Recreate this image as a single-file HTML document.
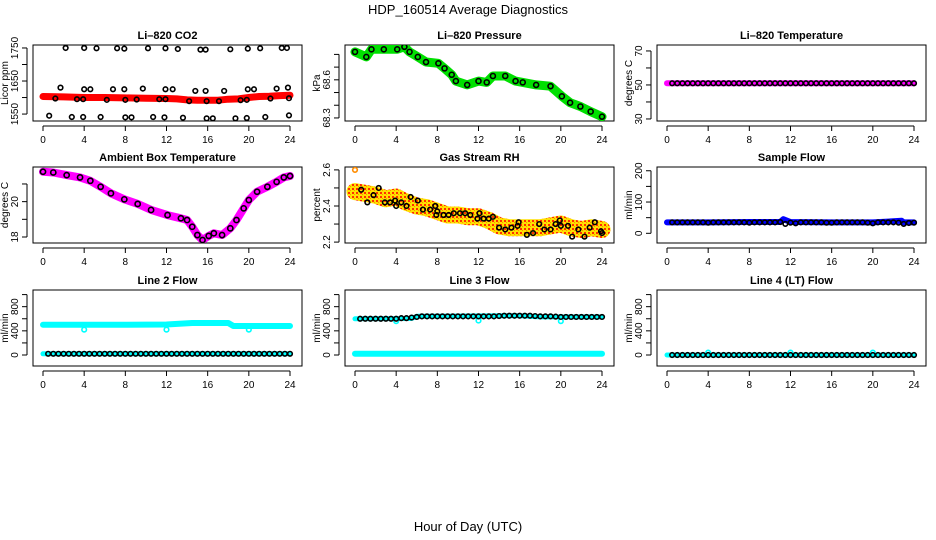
<!DOCTYPE html>
<html><head><meta charset="utf-8">
<style>
body{margin:0;background:#fff;}
svg{display:block;font-family:"Liberation Sans",sans-serif;}
</style></head>
<body>
<svg id="chart" width="936" height="540" viewBox="0 0 936 540" xmlns="http://www.w3.org/2000/svg">
<defs>
<pattern id="rhpat" width="4" height="4" patternUnits="userSpaceOnUse">
<rect width="4" height="4" fill="#ffe000"/><rect width="2" height="2" fill="#ff3000"/><rect x="2" y="2" width="1" height="1" fill="#ff9000"/>
</pattern>
</defs>
<text x="468" y="14" font-size="13" text-anchor="middle">HDP_160514  Average Diagnostics</text>
<text x="468" y="531" font-size="13" text-anchor="middle">Hour of Day (UTC)</text>
</svg>
<script>
// ---- data ----
const xTicks = [0,4,8,12,16,20,24];
// CO2
const co2BandHours = [0,2,4,6,8,10,12,13,14,15,16,17,18,19,20,21,22,23,24];
const co2BandVals = [1603,1602,1600,1600,1599,1598,1597,1596,1593,1592,1592,1592,1595,1596,1600,1603,1604,1606,1607];
const co2CircHours = [2.2,4.0,5.2,7.2,7.9,10.2,11.9,13.1,15.3,15.8,18.2,19.9,21.1,23.2,23.7,
 1.7,4.0,4.6,6.8,7.9,9.7,11.9,12.6,14.8,15.8,17.6,19.9,20.5,22.7,23.8,
 1.2,3.3,3.9,6.2,8.0,9.1,11.3,11.9,14.2,15.9,17.1,19.2,19.8,22.1,23.9,
 0.6,2.8,3.9,5.6,8.0,8.6,10.7,11.8,13.6,15.9,16.5,18.7,19.8,21.6,23.9];
const co2CircVals = [1750,1750,1749,1749,1748,1749,1749,1747,1745,1745,1746,1748,1749,1750,1750,
 1630,1625,1625,1625,1625,1627,1625,1625,1620,1620,1620,1625,1625,1627,1630,
 1597,1595,1595,1593,1593,1594,1595,1595,1589,1589,1589,1592,1593,1597,1598,
 1545,1541,1541,1541,1540,1540,1541,1540,1539,1537,1537,1537,1538,1541,1546];
// Pressure
const presHours = [0,1.1,1.6,2.8,4.1,4.8,5.3,6.1,6.9,8.1,8.7,9.4,9.8,10.9,12.0,12.8,13.4,14.6,15.6,16.3,17.6,19.0,20.1,20.9,21.9,22.9,24];
const presVals = [68.82,68.78,68.84,68.84,68.84,68.86,68.82,68.78,68.74,68.73,68.69,68.64,68.59,68.56,68.59,68.58,68.63,68.63,68.59,68.58,68.56,68.55,68.47,68.42,68.39,68.35,68.31];
// Li-820 temperature
const tempBandHours = [0,24];
const tempBandVals = [51,51];
// Ambient temperature
const ambHours = [0,1.0,2.3,3.6,4.6,5.6,6.6,7.9,9.2,10.5,12.1,13.4,14.0,14.5,15.0,15.5,16.1,16.6,17.4,18.2,18.8,19.5,20.0,20.8,21.8,22.7,23.4,24];
const ambVals = [21.69,21.65,21.5,21.37,21.18,20.84,20.47,20.13,19.87,19.53,19.24,19.06,18.96,18.58,18.11,17.83,18.06,18.21,18.11,18.49,18.96,19.62,20.09,20.56,20.84,21.12,21.37,21.45];
// Gas stream RH
const rhBandHours = [0,1,2,3,4,5,6,7,8,9,10,11,12,13,14,15,16,17,18,19,20,21,22,23,24];
const rhBandVals = [2.48,2.47,2.46,2.44,2.45,2.42,2.40,2.39,2.37,2.35,2.35,2.34,2.34,2.32,2.29,2.28,2.28,2.28,2.28,2.29,2.30,2.28,2.27,2.28,2.27];
const rhCircHours = [0.6,1.2,1.8,2.3,2.9,3.4,3.9,4.0,4.5,5.0,5.4,6.1,6.6,7.3,7.8,8.0,7.9,8.6,9.1,9.6,10.2,10.7,11.2,11.9,12.1,12.5,13.0,13.4,14.0,14.6,15.2,15.8,15.9,16.7,17.3,17.9,18.4,19.0,19.5,19.9,20.0,20.7,21.1,21.7,22.3,22.8,23.3,23.9,24.0];
const rhCircVals = [2.49,2.42,2.46,2.50,2.42,2.42,2.43,2.40,2.42,2.40,2.45,2.43,2.38,2.38,2.40,2.37,2.35,2.35,2.35,2.36,2.36,2.36,2.35,2.33,2.36,2.33,2.33,2.34,2.28,2.27,2.28,2.29,2.31,2.24,2.25,2.30,2.27,2.27,2.30,2.32,2.29,2.29,2.23,2.27,2.23,2.28,2.31,2.26,2.25];
// half-hourly circle hours for flat series
const halfHours = [0.5,1,1.5,2,2.5,3,3.5,4,4.5,5,5.5,6,6.5,7,7.5,8,8.5,9,9.5,10,10.5,11,11.5,12,12.5,13,13.5,14,14.5,15,15.5,16,16.5,17,17.5,18,18.5,19,19.5,20,20.5,21,21.5,22,22.5,23,23.5,24];
const tempCircVals = [51,51,51,51,51,51,51,51,51,51,51,51,51,51,51,51,51,51,51,51,51,51,51,51,51,51,51,51,51,51,51,51,51,51,51,51,51,51,51,51,51,51,51,51,51,51,51,51];
const sampleBandHours = [0,4,8,11,11.3,12,16,20,22.8,23,24];
const sampleBandVals = [35,35,36,36,45,36,35,35,40,35,35];
const sampleCircVals = [35,35,35,35,35,35,35,34,35,35,35,35,35,35,35,34,35,35,35,35,35,36,30,34,32,35,35,35,35,35,34,34,35,35,35,35,35,35,34,32,35,35,35,35,34,30,33,34];
const line2BandHours = [0,4,8,12,14.5,15,18,18.5,20,24];
const line2BandVals = [500,500,500,505,530,530,530,480,480,480];
const line2OutHours = [4,12,20];
const line2OutVals = [420,420,420];
const line2CircVals = [20,20,20,20,20,20,20,20,20,20,20,20,20,20,20,20,20,20,20,20,20,20,20,20,20,20,20,20,20,20,20,20,20,20,20,20,20,20,20,20,20,20,20,20,20,20,20,20];
const line3LowHours = [0,24];
const line3LowVals = [20,20];
const line3UpBandHours = [0,5.5,6,14,16,18,24];
const line3UpBandVals = [600,605,640,650,650,630,630];
const line3OutHours = [4,12,20];
const line3OutVals = [560,570,560];
const line3CircVals = [600,600,600,600,600,600,600,600,610,610,620,630,640,640,640,640,640,640,640,640,640,640,640,640,640,640,640,645,650,650,650,650,650,650,645,640,640,640,635,630,630,630,630,630,630,630,630,630];
const line4BandHours = [0,24];
const line4BandVals = [0,0];
const line4OutHours = [4,12,20];
const line4OutVals = [40,40,40];
const line4CircVals = [0,0,0,0,0,0,0,0,0,0,0,0,0,0,0,0,0,0,0,0,0,0,0,0,0,0,0,0,0,0,0,0,0,0,0,0,0,0,0,0,0,0,0,0,0,0,0,0];

// ---- drawing ----
const svg = document.getElementById('chart');
const NS = 'http://www.w3.org/2000/svg';
function mk(tag, attrs, parent){
  const e = document.createElementNS(NS, tag);
  for (const k in attrs) e.setAttribute(k, attrs[k]);
  (parent||svg).appendChild(e);
  return e;
}
const rowTops = [45,167,290];
function makePanel(col,row,title,ylab,ylo,yhi,ticks,labels){
  const x0 = 33 + 312*col, w = 269, y0 = rowTops[row], h = 76;
  const g = mk('g',{});
  
  
  const sx = v => x0 + 10 + v*(247/24);
  const sy = v => y0 + h - (v-ylo)/(yhi-ylo)*h;
  const t = mk('text',{x:x0+w/2,y:y0-6,'font-size':'11','font-weight':'bold','text-anchor':'middle'},g);
  t.textContent = title;
  
  
  const box = mk('rect',{x:x0,y:y0,width:w,height:h,fill:'none',stroke:'#000','stroke-width':1},g);
  
  
  mk('line',{x1:sx(0),x2:sx(24),y1:y0+h+5,y2:y0+h+5,stroke:'#000'},g);
  xTicks.forEach(v=>{
    mk('line',{x1:sx(v),x2:sx(v),y1:y0+h+5,y2:y0+h+10,stroke:'#000'},g);
    const l = mk('text',{x:sx(v),y:y0+h+22,'font-size':'10','text-anchor':'middle'},g);
    l.textContent = v;
    
    
  });
  const ax = x0-6;
  mk('line',{x1:ax,x2:ax,y1:sy(ticks[0]),y2:sy(ticks[ticks.length-1]),stroke:'#000'},g);
  ticks.forEach((v,i)=>{
    mk('line',{x1:ax-5,x2:ax,y1:sy(v),y2:sy(v),stroke:'#000'},g);
    if (labels[i] !== '') {
      const l = mk('text',{x:0,y:0,'font-size':'10','text-anchor':'middle',transform:`translate(${ax-9},${sy(v)}) rotate(-90)`},g);
      l.textContent = labels[i];
      
      
    }
  });
  const yl = mk('text',{x:0,y:0,'font-size':'10','text-anchor':'middle',transform:`translate(${x0-25},${y0+h/2}) rotate(-90)`},g);
  yl.textContent = ylab;
  
  
  const clip = 'clip'+col+row;
  const cp = mk('clipPath',{id:clip},g);
  mk('rect',{x:x0,y:y0,width:w,height:h},cp);
  const pg = mk('g',{'clip-path':`url(#${clip})`},g);
  return {g:pg,sx,sy};
}
function band(p,hours,vals,color,width,name){
  const pts = hours.map((hh,i)=>p.sx(hh).toFixed(1)+','+p.sy(vals[i]).toFixed(1)).join(' ');
  const pl = mk('polyline',{points:pts,fill:'none',stroke:color,'stroke-width':width,'stroke-linejoin':'round','stroke-linecap':'round'},p.g);
  
  
}
function circles(p,hours,vals,color,name,r){
  hours.forEach((hh,i)=>{
    const c = mk('circle',{cx:p.sx(hh),cy:p.sy(vals[i]),r:r||2.3,fill:'none',stroke:color,'stroke-width':1.6},p.g);
    
    
  });
}

let p = makePanel(0,0,'Li\u2013820 CO2','Licor ppm',1529,1759,[1550,1600,1650,1700,1750],['1550','','1650','','1750']);
band(p,co2BandHours,co2BandVals,'#ff0000',7,'co2-band');
circles(p,co2CircHours,co2CircVals,'#000','co2-point');
p = makePanel(1,0,'Li\u2013820 Pressure','kPa',68.276,68.874,[68.3,68.4,68.5,68.6,68.7,68.8],['68.3','','','68.6','','']);
band(p,presHours,presVals,'#00e000',9,'pressure-band');
circles(p,presHours,presVals,'#000','pressure-point',2.5);
p = makePanel(2,0,'Li\u2013820 Temperature','degrees C',28.8,73.5,[30,40,50,60,70],['30','','50','','70']);
band(p,tempBandHours,tempBandVals,'#ff00ff',6,'temperature-band');
circles(p,halfHours,tempCircVals,'#000','temperature-point');
p = makePanel(0,1,'Ambient Box Temperature','degrees C',17.66,21.96,[18,19,20,21],['18','','20','']);
band(p,ambHours,ambVals,'#ff00ff',8,'ambient-band');
circles(p,ambHours,ambVals,'#000','ambient-point',2.6);
p = makePanel(1,1,'Gas Stream RH','percent',2.195,2.616,[2.2,2.3,2.4,2.5,2.6],['2.2','','2.4','','2.6']);
band(p,rhBandHours,rhBandVals,'url(#rhpat)',17,'rh-band');
circles(p,[0],[2.6],'#ff8c00','rh-outlier');
circles(p,rhCircHours,rhCircVals,'#000','rh-point');
p = makePanel(2,1,'Sample Flow','ml/min',-31,212,[0,50,100,150,200],['0','','100','','200']);
band(p,sampleBandHours,sampleBandVals,'#0000ff',6,'sample-flow-band');
circles(p,halfHours,sampleCircVals,'#000','sample-flow-point');
const flowTicks = [0,200,400,600,800,1000], flowLabels = ['0','','400','','800',''];
p = makePanel(0,2,'Line 2 Flow','ml/min',-182,1076,flowTicks,flowLabels);
band(p,line2BandHours,line2BandVals,'#00ffff',6,'line2-band');
circles(p,line2OutHours,line2OutVals,'#00ffff','line2-outlier');
band(p,[0,24],[20,20],'#00ffff',5,'line2-low-band');
circles(p,halfHours,line2CircVals,'#000','line2-point');
p = makePanel(1,2,'Line 3 Flow','ml/min',-182,1076,flowTicks,flowLabels);
band(p,line3LowHours,line3LowVals,'#00ffff',6,'line3-low-band');
band(p,line3UpBandHours,line3UpBandVals,'#00ffff',5,'line3-band');
circles(p,line3OutHours,line3OutVals,'#00ffff','line3-outlier');
circles(p,halfHours,line3CircVals,'#000','line3-point');
p = makePanel(2,2,'Line 4 (LT) Flow','ml/min',-182,1076,flowTicks,flowLabels);
band(p,line4BandHours,line4BandVals,'#00ffff',5,'line4-band');
circles(p,line4OutHours,line4OutVals,'#00ffff','line4-outlier');
circles(p,halfHours,line4CircVals,'#000','line4-point');
</script>
</body></html>
